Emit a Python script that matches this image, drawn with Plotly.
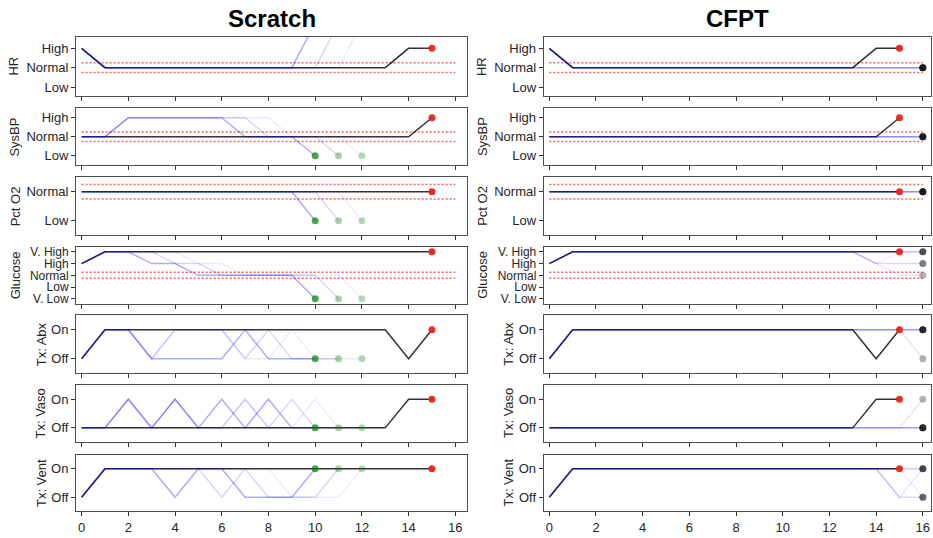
import plotly.graph_objects as go

# ---------------- data ----------------
x_tick_vals = [0, 2, 4, 6, 8, 10, 12, 14, 16]
panel_titles = ["Scratch", "CFPT"]
var_names = ["HR", "SysBP", "Pct O2", "Glucose", "Tx: Abx", "Tx: Vaso", "Tx: Vent"]

hr_levels = ["Low", "Normal", "High"]
sysbp_levels = ["Low", "Normal", "High"]
o2_levels = ["Low", "Normal"]
glucose_levels = ["V. Low", "Low", "Normal", "High", "V. High"]
tx_levels = ["Off", "On"]

# index of the "Normal" level (red dotted band), None for treatments
normal_level = [1, 1, 1, 2, None, None, None]

# observed trajectory, t = 0..15
obs_hr      = [2, 1, 1, 1, 1, 1, 1, 1, 1, 1, 1, 1, 1, 1, 2, 2]
obs_sysbp   = [1, 1, 1, 1, 1, 1, 1, 1, 1, 1, 1, 1, 1, 1, 1, 2]
obs_o2      = [1, 1, 1, 1, 1, 1, 1, 1, 1, 1, 1, 1, 1, 1, 1, 1]
obs_glucose = [3, 4, 4, 4, 4, 4, 4, 4, 4, 4, 4, 4, 4, 4, 4, 4]
obs_abx     = [0, 1, 1, 1, 1, 1, 1, 1, 1, 1, 1, 1, 1, 1, 0, 1]
obs_vaso    = [0, 0, 0, 0, 0, 0, 0, 0, 0, 0, 0, 0, 0, 0, 1, 1]
obs_vent    = [0, 1, 1, 1, 1, 1, 1, 1, 1, 1, 1, 1, 1, 1, 1, 1]

# "Scratch" counterfactual trajectories (three samples, from t = 0)
scratch_hr = [
    [2, 1, 1, 1, 1, 1, 1, 1, 1, 1, 3.3],
    [2, 1, 1, 1, 1, 1, 1, 1, 1, 1, 1, 3.3],
    [2, 1, 1, 1, 1, 1, 1, 1, 1, 1, 1, 1, 3.3],
]
scratch_sysbp = [
    [1, 1, 2, 2, 2, 2, 2, 1, 1, 1, 0],
    [1, 1, 2, 2, 2, 2, 2, 2, 1, 1, 1, 0],
    [1, 1, 2, 2, 2, 2, 2, 2, 2, 1, 1, 1, 0],
]
scratch_o2 = [
    [1, 1, 1, 1, 1, 1, 1, 1, 1, 1, 0],
    [1, 1, 1, 1, 1, 1, 1, 1, 1, 1, 1, 0],
    [1, 1, 1, 1, 1, 1, 1, 1, 1, 1, 1, 1, 0],
]
scratch_glucose = [
    [3, 4, 4, 3, 3, 2, 2, 2, 2, 2, 0],
    [3, 4, 4, 4, 3, 3, 2, 2, 2, 2, 2, 0],
    [3, 4, 4, 4, 4, 3, 3, 2, 2, 2, 2, 2, 0],
]
scratch_abx = [
    [0, 1, 1, 0, 0, 0, 0, 1, 0, 0, 0],
    [0, 1, 1, 0, 1, 1, 1, 0, 1, 0, 0, 0],
    [0, 1, 1, 0, 1, 1, 1, 0, 0, 1, 0, 0, 0],
]
scratch_vaso = [
    [0, 0, 1, 0, 1, 0, 1, 0, 1, 0, 0],
    [0, 0, 1, 0, 1, 0, 0, 1, 0, 1, 0, 0],
    [0, 0, 1, 0, 1, 0, 0, 1, 0, 0, 1, 0, 0],
]
scratch_vent = [
    [0, 1, 1, 1, 0, 1, 1, 0, 0, 0, 1],
    [0, 1, 1, 1, 1, 1, 0, 1, 0, 0, 0, 1],
    [0, 1, 1, 1, 1, 1, 1, 1, 1, 0, 0, 0, 1],
]

# "CFPT" counterfactuals: observed up to t = 13, then these values for t = 14, 15, 16
cfpt_start = 14
cfpt_hr      = [[1, 1, 1], [1, 1, 1], [1, 1, 1], [1, 1, 1]]
cfpt_sysbp   = [[1, 1, 1], [1, 1, 1], [1, 1, 1], [1, 1, 1]]
cfpt_o2      = [[1, 1, 1], [1, 1, 1], [1, 1, 1], [1, 1, 1]]
cfpt_glucose = [[4, 4, 4], [3, 3, 3], [3, 2, 2], [3, 4, 4]]
cfpt_abx     = [[1, 1, 1], [1, 1, 1], [1, 1, 0], [1, 1, 1]]
cfpt_vaso    = [[0, 0, 0], [0, 0, 0], [0, 0, 1], [0, 0, 0]]
cfpt_vent    = [[1, 1, 1], [1, 0, 0], [1, 0, 1], [1, 1, 0]]

# ---------------- assembly ----------------
levels_by_var = [hr_levels, sysbp_levels, o2_levels, glucose_levels, tx_levels, tx_levels, tx_levels]
obs_by_var = [obs_hr, obs_sysbp, obs_o2, obs_glucose, obs_abx, obs_vaso, obs_vent]
scratch_by_var = [scratch_hr, scratch_sysbp, scratch_o2, scratch_glucose, scratch_abx, scratch_vaso, scratch_vent]
cfpt_by_var = [cfpt_hr, cfpt_sysbp, cfpt_o2, cfpt_glucose, cfpt_abx, cfpt_vaso, cfpt_vent]

# styles
W, H = 933, 538
row_px = [(35, 95), (106.7, 164.5), (176.7, 235), (246.7, 304), (315.7, 374), (385.7, 443.5), (456, 513.3)]
y_ranges = [(-0.48, 2.6), (-0.5, 2.52), (-0.5, 1.5), (-0.42, 4.42), (-0.5, 1.5), (-0.5, 1.5), (-0.5, 1.5)]
tick_font_sizes = [13, 13, 13, 12, 13, 13, 13]
col_px = [(76, 467), (543.7, 931)]
x_ranges = [(-0.24, 16.5), (-0.24, 16.35)]
ylabel_px = [14, 15, 15, 15, 41, 41, 41]
col_shift = 467.5
band_half = 0.25

scratch_line_alpha = [0.32, 0.16, 0.08]
scratch_dot_alpha = [0.7, 0.35, 0.3]
cfpt_line_alpha = [0.2, 0.15, 0.1, 0.08]
cfpt_dot_alpha = [0.6, 0.5, 0.3, 0.2]

FONT = "Liberation Sans, Arial, Helvetica, sans-serif"
TXT = "#262626"

fig = go.Figure()
layout = dict(
    width=W, height=H, margin=dict(l=0, r=0, t=0, b=0),
    plot_bgcolor="white", paper_bgcolor="white", showlegend=False,
    font=dict(family=FONT, size=13, color=TXT),
)
annotations = []

for r in range(7):
    lv = levels_by_var[r]
    obs = obs_by_var[r]
    t_obs = list(range(len(obs)))
    for c in range(2):
        n = r * 2 + c + 1
        xk = "x" if n == 1 else f"x{n}"
        yk = "y" if n == 1 else f"y{n}"
        # red dotted normal band
        if normal_level[r] is not None:
            for s in (-1, 1):
                fig.add_trace(go.Scatter(
                    x=[x_tick_vals[0], x_tick_vals[-1]],
                    y=[normal_level[r] + s * band_half] * 2,
                    mode="lines", xaxis=xk, yaxis=yk, hoverinfo="skip",
                    line=dict(color="rgba(238,60,60,0.8)", width=1.5, dash="2px,2px"),
                ))
        # observed trajectory
        fig.add_trace(go.Scatter(
            x=t_obs, y=obs, mode="lines", xaxis=xk, yaxis=yk,
            line=dict(color="rgba(0,0,0,0.8)", width=1.5),
        ))
        ends = []
        if c == 0:
            for k, cf in enumerate(scratch_by_var[r]):
                fig.add_trace(go.Scatter(
                    x=list(range(len(cf))), y=cf, mode="lines", xaxis=xk, yaxis=yk,
                    line=dict(color=f"rgba(0,0,255,{scratch_line_alpha[k]})", width=1.5),
                ))
                ends.append((len(cf) - 1, cf[-1], f"rgba(0,128,0,{scratch_dot_alpha[k]})"))
        else:
            for k, tail in enumerate(cfpt_by_var[r]):
                cf = obs[:cfpt_start] + tail
                fig.add_trace(go.Scatter(
                    x=list(range(len(cf))), y=cf, mode="lines", xaxis=xk, yaxis=yk,
                    line=dict(color=f"rgba(0,0,255,{cfpt_line_alpha[k]})", width=1.5),
                ))
                ends.append((len(cf) - 1, cf[-1], f"rgba(0,0,0,{cfpt_dot_alpha[k]})"))
        for (ex, ey, col) in ends:
            fig.add_trace(go.Scatter(
                x=[ex], y=[ey], mode="markers", xaxis=xk, yaxis=yk,
                marker=dict(color=col, size=7, line=dict(width=0)),
            ))
        fig.add_trace(go.Scatter(
            x=[t_obs[-1]], y=[obs[-1]], mode="markers", xaxis=xk, yaxis=yk,
            marker=dict(color="rgba(235,35,25,0.95)", size=7, line=dict(width=0)),
        ))

        top, bot = row_px[r]
        x0, x1 = col_px[c]
        axcommon = dict(
            showline=True, mirror=True, linecolor="#4d4d4d", linewidth=1,
            showgrid=False, zeroline=False, ticks="outside", ticklen=4,
            tickwidth=1, tickcolor="#333333",
        )
        layout["xaxis" if n == 1 else f"xaxis{n}"] = dict(
            axcommon, domain=[x0 / W, x1 / W], range=list(x_ranges[c]),
            tickvals=x_tick_vals, showticklabels=(r == 6),
            tickfont=dict(family=FONT, size=13, color=TXT),
            anchor=yk,
        )
        layout["yaxis" if n == 1 else f"yaxis{n}"] = dict(
            axcommon, domain=[1 - bot / H, 1 - top / H], range=list(y_ranges[r]),
            tickvals=list(range(len(lv))), ticktext=lv,
            tickfont=dict(family=FONT, size=tick_font_sizes[r], color=TXT),
            anchor=xk,
        )
        annotations.append(dict(
            text=var_names[r], xref="paper", yref="paper",
            x=(ylabel_px[r] + c * col_shift) / W, y=1 - (top + bot) / 2 / H,
            xanchor="center", yanchor="middle", textangle=-90, showarrow=False,
            font=dict(family=FONT, size=13, color=TXT),
        ))

for c in range(2):
    x0, x1 = col_px[c]
    annotations.append(dict(
        text=f"<b>{panel_titles[c]}</b>", xref="paper", yref="paper",
        x=(x0 + x1) / 2 / W, y=1 - 17 / H, xanchor="center", yanchor="middle",
        showarrow=False, font=dict(family=FONT, size=24, color="black"),
    ))

layout["annotations"] = annotations
fig.update_layout(**layout)
fig.write_html("out.html")
